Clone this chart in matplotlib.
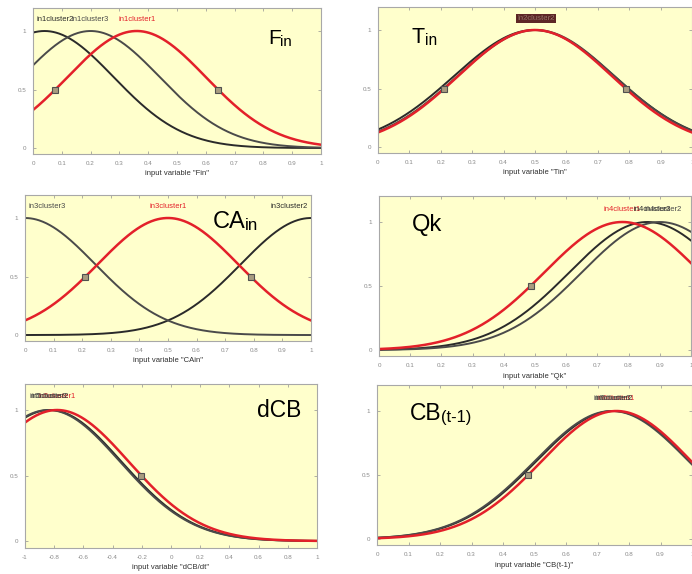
import numpy as np
import matplotlib
matplotlib.use('Agg')
import matplotlib.pyplot as plt

plt.rcParams['font.family'] = ['Liberation Sans', 'DejaVu Sans']

W, H = 692, 574

# gaussian membership functions (centre, sigma), cluster1 is the selected (red) one
fin_names = ['in1cluster1', 'in1cluster2', 'in1cluster3']
fin_centers = [0.36, 0.04, 0.20]
fin_sigmas = [0.24, 0.24, 0.24]
fin_label_x = [0.36, 0.077, 0.20]

tin_names = ['in2cluster1', 'in2cluster2', 'in2cluster3']
tin_centers = [0.500, 0.497, 0.503]
tin_sigmas = [0.245, 0.255, 0.250]
tin_label_x = [0.503, 0.501, 0.504]

cain_names = ['in3cluster1', 'in3cluster2', 'in3cluster3']
cain_centers = [0.50, 1.00, 0.00]
cain_sigmas = [0.245, 0.245, 0.245]
cain_label_x = [0.50, 0.925, 0.077]

qk_names = ['in4cluster1', 'in4cluster3', 'in4cluster2']
qk_centers = [0.78, 0.86, 0.90]
qk_sigmas = [0.25, 0.25, 0.25]
qk_label_x = [0.78, 0.875, 0.91]

dcb_names = ['in5cluster1', 'in5cluster2', 'in5cluster3']
dcb_centers = [-0.78, -0.83, -0.84]
dcb_sigmas = [0.49, 0.49, 0.49]
dcb_label_x = [-0.78, -0.83, -0.84]

cb_names = ['in6cluster1', 'in6cluster2', 'in6cluster3']
cb_centers = [0.760, 0.750, 0.745]
cb_sigmas = [0.238, 0.245, 0.245]
cb_label_x = [0.760, 0.752, 0.745]

unit_ticks = [0, 0.1, 0.2, 0.3, 0.4, 0.5, 0.6, 0.7, 0.8, 0.9, 1]
unit_labels = ['0', '0.1', '0.2', '0.3', '0.4', '0.5', '0.6', '0.7', '0.8', '0.9', '1']
sym_ticks = [-1, -0.8, -0.6, -0.4, -0.2, 0, 0.2, 0.4, 0.6, 0.8, 1]
sym_labels = ['-1', '-0.8', '-0.6', '-0.4', '-0.2', '0', '0.2', '0.4', '0.6', '0.8', '1']

RED = '#e3202a'
GRAYS = ['#2a2a2a', '#4a4a4a']


def gaussmf(x, c, s):
    return np.exp(-(x - c) ** 2 / (2 * s ** 2))


def tag(main, sub, xy, size):
    # big variable name with a plain-text subscript
    t = fig.text(xy[0] / W, 1 - xy[1] / H, main, fontsize=size, ha='left', va='baseline')
    if sub:
        bb = t.get_window_extent(renderer)
        px = size * 100 / 72
        fig.text((bb.x1 - 0.5) / W, (H - xy[1] - 0.1 * px) / H, sub, fontsize=size * 0.72,
                 ha='left', va='baseline')


def panel(rect, xlim, ticks, tlabels, names, centers, sigmas, label_x, xlabel, boxed=False):
    l, t, r, b = rect
    ax = fig.add_axes([l / W, 1 - b / H, (r - l) / W, (b - t) / H])
    ax.set_facecolor('#ffffcc')
    x = np.linspace(xlim[0], xlim[1], 400)
    # gray ones first, red on top
    for i in range(1, len(centers)):
        ax.plot(x, gaussmf(x, centers[i], sigmas[i]), color=GRAYS[i - 1], lw=1.4)
    ax.plot(x, gaussmf(x, centers[0], sigmas[0]), color=RED, lw=1.8)
    # 0.5 crossing points of the selected mf
    d = sigmas[0] * np.sqrt(2 * np.log(2))
    for xp in (centers[0] - d, centers[0] + d):
        if xlim[0] <= xp <= xlim[1]:
            ax.plot(xp, 0.5, 's', ms=4, mfc='#a89c80', mec='#505050', mew=0.8)
    # cluster labels
    if boxed:
        ax.text(label_x[0], 1.1, names[1], color='#e0b0a0', fontsize=5.5, ha='center',
                va='center', bbox=dict(boxstyle='square,pad=0.15', fc='#5e2626', ec='none'))
        for i in range(1, len(names)):
            ax.text(label_x[i], 1.1, names[i], color='#3a1a1a', fontsize=5.5,
                    ha='center', va='center', alpha=0.5)
    else:
        ax.text(label_x[0], 1.1, names[0], color=RED, fontsize=5.5, ha='center', va='center')
        for i in range(1, len(names)):
            ax.text(label_x[i], 1.1, names[i], color=GRAYS[i - 1], fontsize=5.5,
                    ha='center', va='center')
    ax.set_xlim(xlim)
    ax.set_ylim(-0.05, 1.2)
    ax.set_xticks(ticks)
    ax.set_xticklabels(tlabels)
    ax.set_yticks([0, 0.5, 1])
    ax.set_yticklabels(['0', '0.5', '1'])
    ax.tick_params(direction='in', length=2, width=0.5, color='#909090',
                   labelsize=4.5, labelcolor='#8a8a8a', top=True, right=True, pad=5)
    for sp in ax.spines.values():
        sp.set_color('#a8a8a8')
        sp.set_linewidth(0.8)
    ax.set_xlabel(xlabel, fontsize=5.5, color='#303030', labelpad=3)
    return ax


fig = plt.figure(figsize=(W / 100, H / 100), dpi=100)
fig.patch.set_facecolor('white')
renderer = fig.canvas.get_renderer()

panel((33, 7.6, 321, 153.9), (0, 1), unit_ticks, unit_labels, fin_names, fin_centers,
      fin_sigmas, fin_label_x, 'input variable "Fin"')
panel((378, 6.6, 692, 152.9), (0, 1), unit_ticks, unit_labels, tin_names, tin_centers,
      tin_sigmas, tin_label_x, 'input variable "Tin"', boxed=True)
panel((25, 194.6, 311, 340.9), (0, 1), unit_ticks, unit_labels, cain_names, cain_centers,
      cain_sigmas, cain_label_x, 'input variable "CAin"')
panel((379, 196.4, 691, 356.4), (0, 1), unit_ticks, unit_labels, qk_names, qk_centers,
      qk_sigmas, qk_label_x, 'input variable "Qk"')
panel((25, 383.8, 317, 547.6), (-1, 1), sym_ticks, sym_labels, dcb_names, dcb_centers,
      dcb_sigmas, dcb_label_x, 'input variable "dCB/dt"')
panel((377, 385.4, 692, 545.4), (0, 1), unit_ticks, unit_labels, cb_names, cb_centers,
      cb_sigmas, cb_label_x, 'input variable "CB(t-1)"')

tag('F', 'in', (268, 44), 15)
tag('T', 'in', (412, 43), 15.5)
tag('CA', 'in', (213, 228), 17)
tag('Qk', '', (412, 231), 17)
tag('dCB', '', (257, 417), 16.5)
tag('CB', '(t-1)', (410, 420), 16.5)

fig.savefig('out.png', dpi=100, facecolor='white')
